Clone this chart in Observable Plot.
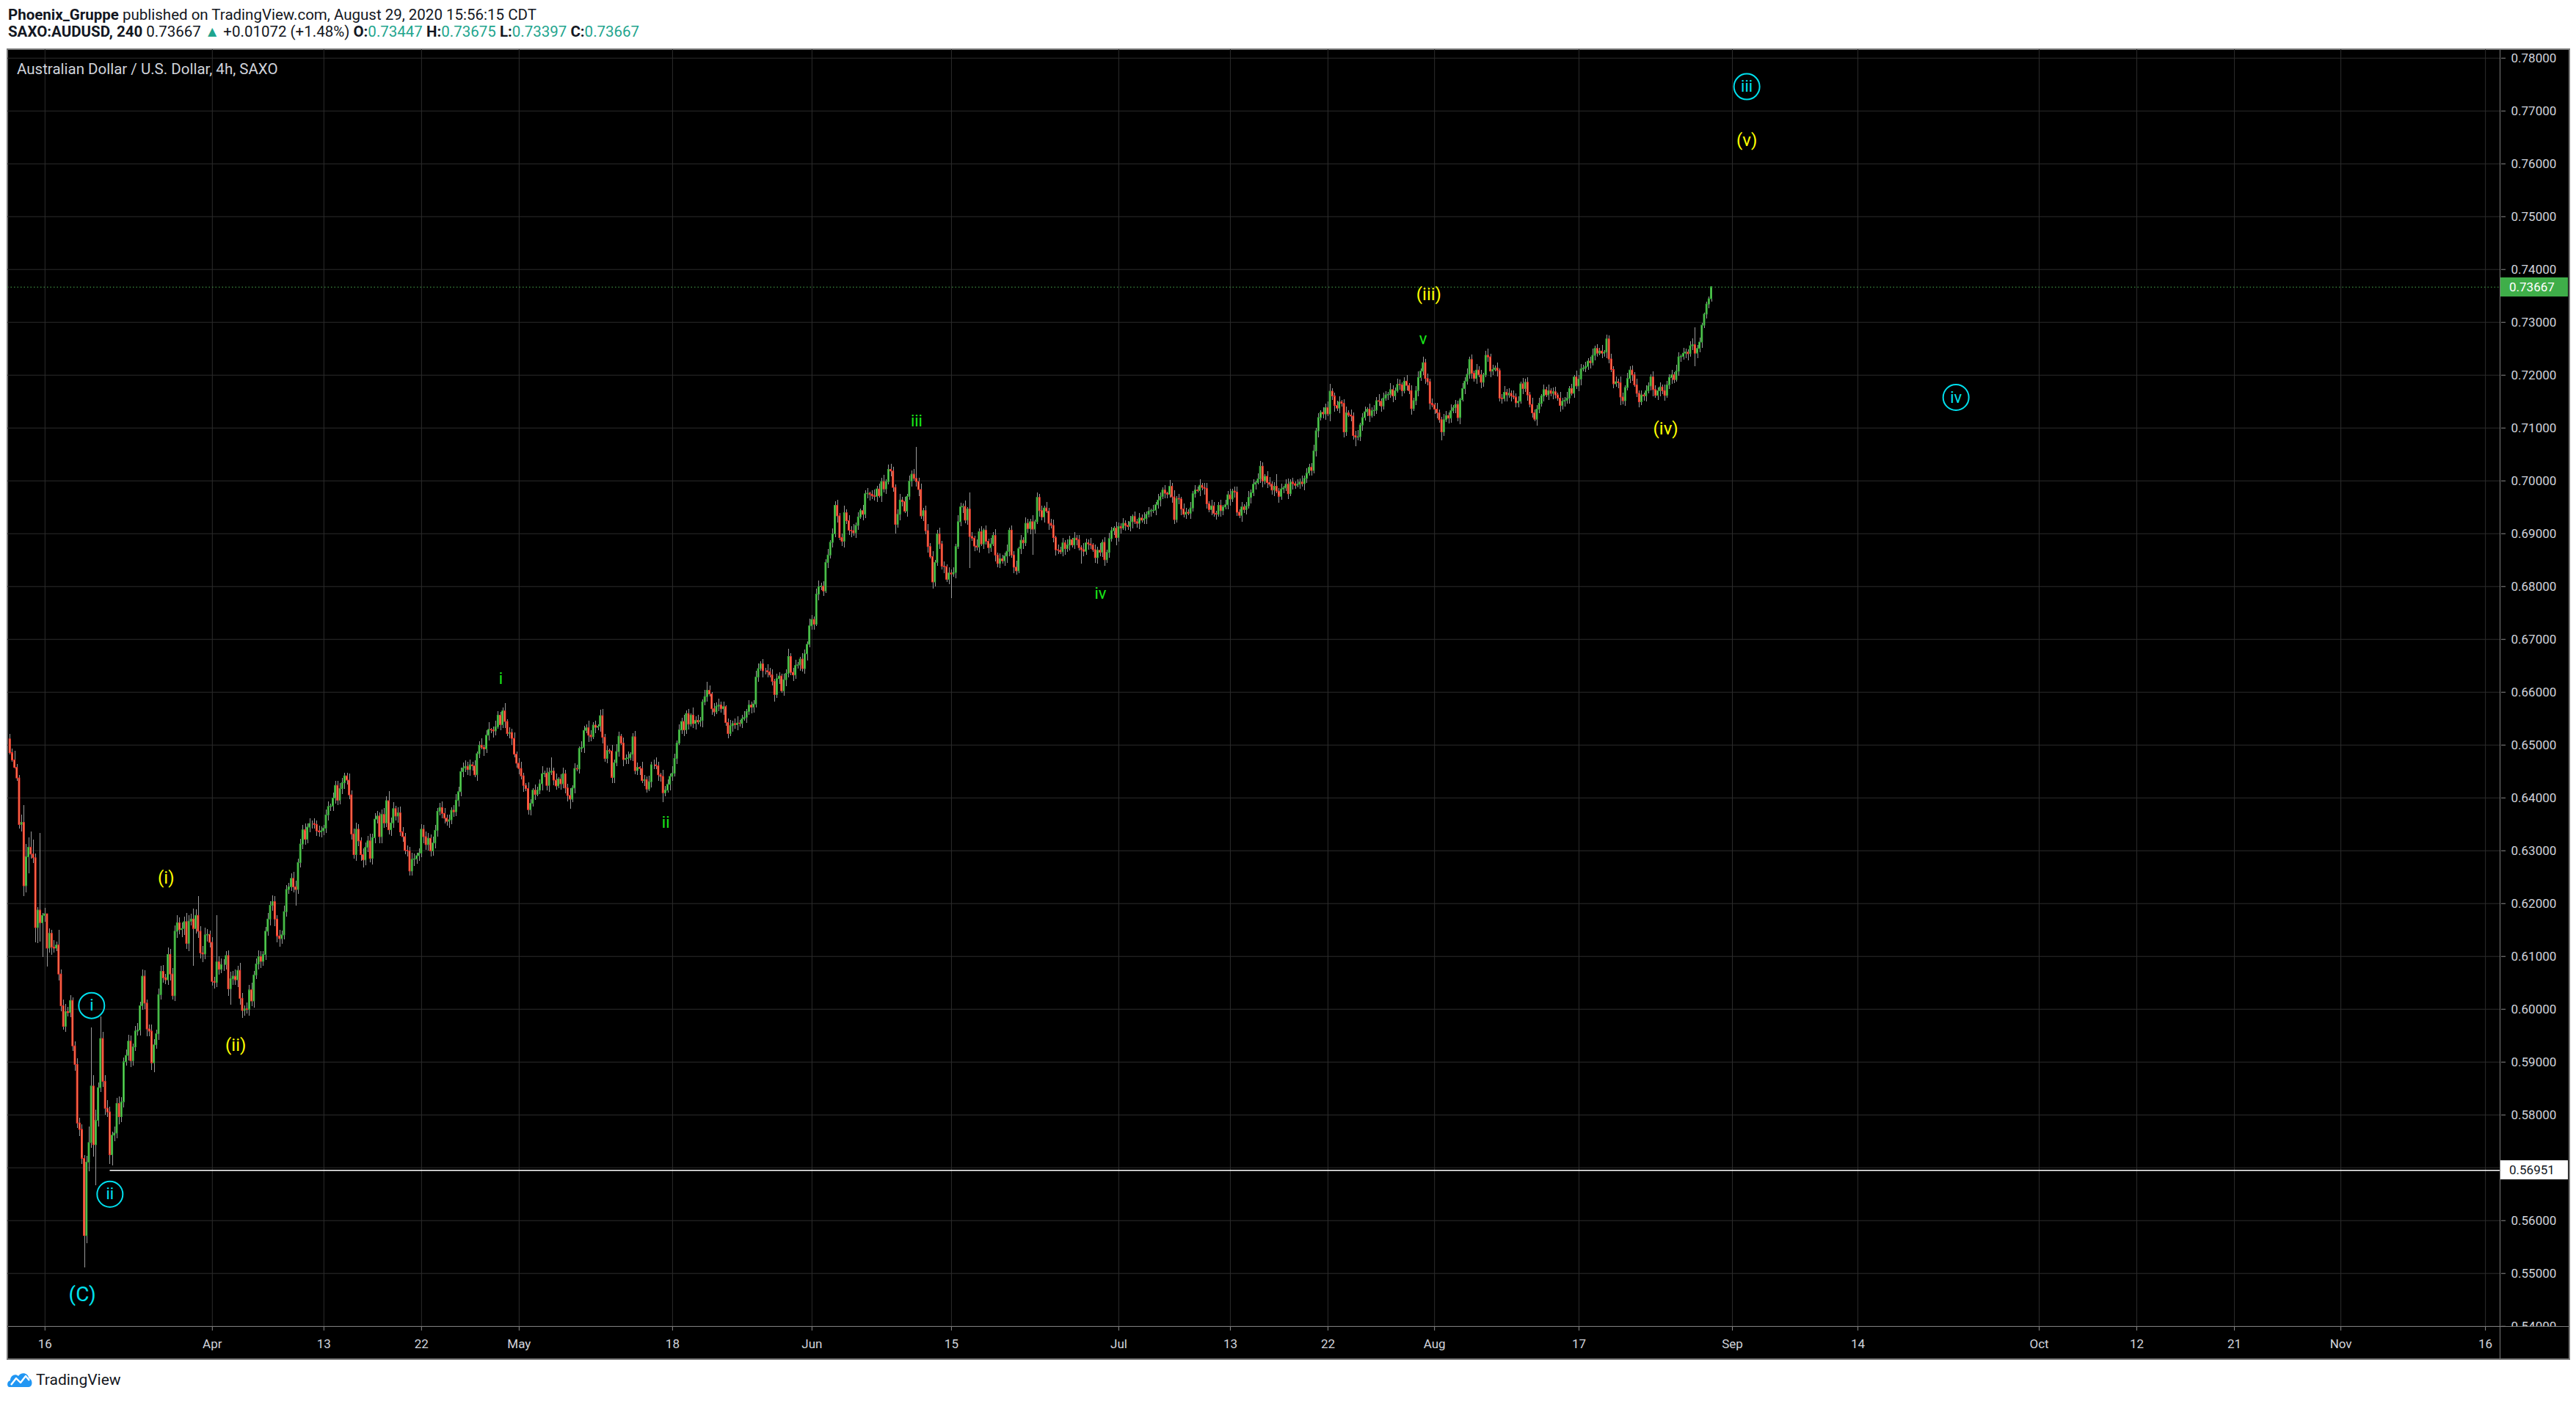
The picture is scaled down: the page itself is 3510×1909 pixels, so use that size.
<!DOCTYPE html>
<html><head><meta charset="utf-8">
<script src="https://cdn.jsdelivr.net/npm/d3@7"></script>
<script src="https://cdn.jsdelivr.net/npm/@observablehq/plot@0.6"></script>
<style>
html,body{margin:0;padding:0;background:#fff;width:3510px;height:1909px;overflow:hidden;font-family:Roboto,"Open Sans",sans-serif;}
.hdr{position:absolute;left:11px;font-size:20.5px;color:#131722;white-space:nowrap;line-height:24px;}
.hdr b{font-weight:700}
.t{color:#1fa58e}
#frame{position:absolute;left:9px;top:66px;width:3493px;height:1787px;border:2px solid #7a7a7a;background:#000;box-sizing:border-box;}
#chart{position:absolute;left:0;top:67px;}
#title{position:absolute;left:23px;top:82px;font-size:20.5px;color:#d1d4dc;white-space:nowrap;}
.sep{position:absolute;background:#7a7a7a;}
#corner{position:absolute;left:3407px;top:1808px;width:93px;height:43px;background:#000;}
.plabel{position:absolute;left:3407px;width:92px;height:26px;line-height:26px;font-size:17px;padding-left:12px;box-sizing:border-box;}
#logo{position:absolute;left:9px;top:1866px;height:28px;display:flex;align-items:center;gap:4px;font-size:21px;color:#131722;}
</style></head>
<body>
<div class="hdr" id="h1" style="top:8px"></div>
<div class="hdr" id="h2" style="top:31px"></div>
<div id="frame"></div>
<div id="chart"></div>
<div id="title"></div>
<div class="sep" style="left:3406px;top:67px;width:1px;height:1784px"></div>
<div class="sep" style="left:11px;top:1807px;width:3489px;height:1px"></div>
<div id="corner"></div>
<div id="logo"><svg width="36" height="24" viewBox="0 0 36 24"><path d="M4 22 C0 22 0 14 5 13 C5 6 12 3 16 7 C19 1 30 2 30 10 C36 11 36 22 30 22 Z" fill="#2196f3"/><polyline points="6,19 13,10 19,16 26,7 31,13" fill="none" stroke="#fff" stroke-width="2.4" stroke-linejoin="round"/></svg><span>TradingView</span></div>
<script>
// ---- chart data (prices in pips, 1 pip = 0.0001), one 4h bar per entry ----
const PIP = 1e-4;
const firstOpen = 6511;
const closes = [
6485,6471,6457,6437,6349,6353,6233,6288,6306,6293,
6286,6154,6187,6163,6177,6180,6115,6143,6117,6115,
6121,6066,6006,5967,5995,5993,6016,5930,5895,5784,
5772,5717,5571,5710,5747,5854,5743,5789,5851,5944,
5863,5812,5805,5724,5761,5765,5821,5796,5824,5900,
5912,5939,5902,5928,5958,5960,6006,6062,6011,5962,
5958,5898,5932,5953,6027,6071,6059,6055,6103,6066,
6025,6147,6163,6150,6152,6165,6124,6166,6170,6152,
6177,6147,6106,6104,6140,6141,6126,6052,6050,6089,
6075,6084,6084,6101,6038,6057,6062,6055,6073,6020,
5997,6000,5999,6036,6015,6064,6085,6099,6090,6103,
6147,6170,6196,6203,6170,6138,6133,6140,6184,6226,
6231,6247,6231,6226,6277,6312,6339,6321,6344,6351,
6351,6349,6337,6335,6337,6342,6367,6383,6384,6399,
6423,6395,6417,6428,6441,6433,6405,6331,6292,6340,
6318,6292,6282,6306,6318,6285,6324,6359,6365,6326,
6368,6352,6394,6339,6352,6379,6365,6371,6335,6326,
6300,6299,6261,6283,6284,6290,6295,6340,6326,6311,
6323,6299,6314,6338,6374,6381,6370,6361,6355,6358,
6376,6373,6395,6411,6449,6456,6459,6453,6462,6460,
6443,6483,6499,6495,6492,6518,6529,6528,6526,6534,
6556,6538,6564,6544,6521,6523,6512,6482,6465,6455,
6441,6423,6417,6377,6389,6414,6406,6414,6426,6445,
6446,6423,6448,6450,6433,6422,6435,6426,6445,6418,
6404,6397,6418,6455,6454,6493,6495,6527,6532,6518,
6515,6537,6533,6535,6555,6514,6474,6489,6488,6438,
6466,6487,6516,6503,6472,6474,6475,6482,6515,6451,
6457,6455,6432,6434,6416,6430,6462,6462,6460,6443,
6440,6409,6414,6425,6440,6446,6474,6503,6528,6544,
6528,6559,6539,6556,6540,6546,6543,6546,6581,6591,
6603,6596,6568,6562,6573,6575,6568,6572,6542,6521,
6536,6540,6538,6541,6540,6549,6552,6563,6575,6571,
6577,6628,6644,6653,6640,6640,6638,6632,6620,6595,
6625,6630,6602,6623,6635,6667,6637,6632,6650,6651,
6662,6644,6672,6690,6725,6737,6728,6785,6799,6800,
6791,6845,6859,6883,6899,6953,6933,6892,6885,6939,
6924,6906,6905,6901,6915,6931,6943,6936,6975,6976,
6974,6971,6970,6984,6971,6998,6984,6998,7021,7018,
6987,6917,6936,6963,6960,6942,6970,6999,7012,7004,
6998,6983,6933,6943,6905,6875,6856,6808,6845,6899,
6880,6838,6837,6813,6825,6823,6826,6875,6922,6950,
6951,6925,6946,6894,6891,6876,6874,6903,6880,6906,
6885,6873,6880,6896,6859,6843,6852,6848,6857,6866,
6906,6859,6836,6829,6871,6887,6882,6919,6909,6922,
6908,6922,6968,6943,6931,6948,6942,6919,6915,6892,
6869,6868,6865,6882,6871,6878,6888,6878,6891,6888,
6873,6869,6866,6882,6880,6878,6869,6854,6868,6864,
6883,6850,6864,6890,6905,6910,6892,6913,6910,6919,
6915,6913,6922,6932,6922,6919,6929,6925,6928,6936,
6942,6943,6944,6954,6963,6970,6982,6976,6974,6989,
6969,6926,6966,6965,6946,6936,6940,6938,6948,6975,
6982,6981,6991,6987,6985,6956,6945,6952,6938,6936,
6953,6943,6950,6954,6973,6965,6980,6978,6940,6934,
6950,6945,6952,6968,6977,6993,6996,7003,7027,6999,
7008,6996,6993,6982,6989,6980,6970,6984,6986,6993,
6975,6997,6994,6991,6993,6997,6994,7004,7014,7025,
7019,7056,7094,7119,7129,7126,7138,7126,7169,7160,
7142,7137,7149,7146,7092,7128,7124,7122,7085,7082,
7083,7105,7119,7130,7135,7123,7132,7133,7151,7150,
7141,7156,7162,7163,7172,7160,7170,7182,7181,7170,
7188,7180,7170,7136,7151,7170,7195,7207,7223,7193,
7187,7146,7143,7135,7128,7115,7092,7115,7123,7118,
7132,7138,7144,7119,7153,7174,7188,7201,7229,7203,
7193,7209,7200,7186,7200,7237,7234,7207,7210,7213,
7208,7156,7155,7167,7162,7165,7160,7158,7147,7150,
7183,7174,7186,7162,7144,7128,7116,7135,7146,7160,
7172,7162,7170,7165,7168,7162,7156,7142,7150,7152,
7156,7174,7165,7196,7179,7192,7211,7213,7216,7226,
7223,7237,7250,7241,7245,7241,7243,7268,7230,7210,
7183,7187,7185,7158,7151,7176,7193,7209,7200,7181,
7165,7149,7162,7160,7170,7179,7196,7172,7161,7170,
7177,7170,7161,7181,7195,7200,7191,7207,7234,7235,
7241,7243,7240,7255,7257,7241,7250,7262,7294,7315,
7334,7344,7366.7];
// wick lengths in pips above the body / below the body
const upperWick = [
10,8,17,6,5,14,33,24,19,30,
28,8,6,146,5,11,0,9,6,13,
7,29,8,11,14,9,10,6,8,12,
10,9,6,12,30,111,20,21,10,42,
13,12,15,10,7,12,11,13,9,8,
11,12,10,7,10,13,8,13,11,7,
9,12,10,8,11,10,12,7,13,10,
12,11,14,10,12,9,16,12,10,20,
12,37,10,13,14,10,7,10,9,89,
11,12,10,9,10,13,10,12,9,14,
10,7,12,10,14,8,11,12,10,7,
8,11,8,12,10,7,12,8,11,9,
7,10,12,11,8,10,9,12,7,10,
6,10,7,10,9,6,10,9,5,10,
8,8,10,9,6,6,12,8,10,12,
10,6,12,9,10,14,8,12,10,7,
10,12,9,18,10,12,6,10,12,9,
7,10,8,12,10,6,9,10,8,10,
10,7,12,10,6,9,12,10,6,9,
6,10,12,9,7,10,12,9,10,6,
11,4,8,13,5,9,14,3,7,12,
8,6,6,15,4,10,7,11,5,9,
13,6,4,12,8,3,11,7,9,14,
5,10,8,26,6,12,4,9,11,7,
8,13,5,10,7,4,12,9,6,14,
10,5,8,3,11,13,7,9,4,12,
6,14,9,5,10,8,12,4,7,11,
9,3,13,8,6,11,5,10,14,7,
4,12,8,10,6,13,9,5,11,7,
12,6,9,4,14,8,10,7,5,13,
16,9,4,11,7,12,6,10,3,8,
11,5,9,13,6,8,12,4,10,7,
8,12,10,5,9,6,13,7,11,4,
10,7,5,12,8,14,6,9,11,5,
4,11,8,6,13,9,5,10,12,7,
9,6,12,4,10,8,11,5,7,13,
6,10,8,12,5,9,4,11,7,10,
3,8,12,6,10,7,13,5,9,11,
8,5,10,12,6,9,4,11,7,10,
60,7,11,5,9,13,6,10,4,8,
12,6,9,4,11,7,10,5,13,8,
6,11,4,31,9,5,12,7,10,3,
9,5,11,7,12,4,10,8,6,13,
5,9,7,12,4,10,6,11,8,5,
13,4,10,7,9,5,12,6,8,11,
4,10,7,9,5,11,8,3,12,6,
9,5,12,8,6,11,4,10,7,13,
6,9,5,11,7,4,12,8,6,10,
5,8,11,4,9,6,10,7,12,5,
8,4,10,6,11,7,5,9,3,12,
7,12,5,9,4,10,8,6,11,5,
9,6,12,4,8,10,5,11,7,4,
6,10,4,9,7,12,5,8,11,6,
10,5,8,12,6,9,4,11,10,7,
4,9,11,5,8,23,6,10,4,9,
11,6,8,4,10,7,12,5,9,6,
8,11,5,9,4,10,7,12,14,5,
6,9,11,4,8,12,5,10,7,9,
12,5,8,10,4,11,6,9,7,13,
5,10,7,4,12,8,6,11,9,5,
8,12,4,10,6,9,11,5,12,7,
10,6,9,4,12,7,5,11,8,6,
12,5,9,7,4,10,8,11,6,9,
5,11,7,10,4,8,12,6,9,5,
10,4,8,12,6,9,5,11,7,10,
4,11,7,9,5,12,6,8,10,4,
9,6,12,5,8,10,4,11,7,6,
11,5,9,4,12,7,10,6,8,5,
9,12,5,8,6,11,4,8,7,10,
6,10,5,12,8,4,11,7,9,5,
12,6,9,4,10,7,5,11,8,6,
9,4,11,7,6,10,5,12,8,4,
10,7,5,9,12,33,6,8,4,3,
5,4,1];
const lowerWick = [
3,3,2,5,8,13,19,13,31,8,
10,28,30,36,65,12,35,9,15,8,
6,12,10,6,10,7,8,9,12,10,
12,10,60,14,18,10,22,77,12,8,
10,12,10,18,20,12,10,14,10,10,
8,10,12,10,8,9,10,8,12,14,
10,14,18,8,12,9,10,8,10,12,
8,10,12,9,14,12,10,14,8,70,
9,12,10,15,10,12,10,8,12,9,
10,8,12,9,14,30,12,10,14,12,
14,10,8,12,10,12,8,10,12,9,
10,8,12,10,14,12,16,10,8,10,
9,8,10,30,8,10,9,10,8,10,
10,8,10,9,10,8,9,10,8,9,
10,9,8,10,12,9,8,10,8,12,
10,12,14,10,9,8,12,10,8,12,
12,10,8,9,12,10,9,12,8,10,
8,10,9,8,12,9,10,8,12,10,
12,10,9,10,12,8,9,10,8,12,
9,10,8,12,9,10,8,10,12,9,
5,11,8,4,13,7,10,6,12,9,
4,10,7,12,5,9,13,6,8,11,
7,12,5,9,11,6,10,4,8,13,
6,9,12,5,10,7,4,11,8,10,
12,18,6,10,4,9,7,11,5,13,
8,4,11,6,10,12,7,9,5,10,
11,6,9,4,12,8,10,5,13,7,
9,12,5,10,7,4,11,8,6,12,
10,18,7,5,12,9,6,11,4,8,
12,7,10,5,9,11,4,8,13,6,
9,5,12,8,4,10,7,11,6,9,
5,12,8,10,6,9,4,11,7,12,
10,6,9,4,12,7,11,5,8,13,
6,10,4,9,12,7,5,11,8,6,
11,5,9,12,6,8,10,4,12,7,
9,4,11,6,10,7,13,5,9,12,
6,9,12,5,10,8,4,11,7,9,
12,6,8,10,4,11,7,9,5,10,
8,18,6,12,9,4,10,7,11,5,
9,12,5,10,7,11,4,13,8,6,
10,7,12,5,9,45,6,11,4,8,
12,6,9,60,5,10,7,11,4,9,
6,11,8,4,12,7,9,5,10,13,
9,5,11,7,4,10,12,6,8,11,
49,8,5,11,7,10,4,12,6,9,
11,7,4,9,12,6,10,5,8,11,
5,27,9,6,11,8,4,10,12,7,
9,12,6,10,5,8,14,7,11,4,
10,6,9,12,5,8,11,4,7,10,
6,11,4,9,7,12,5,10,8,6,
11,8,5,10,12,6,9,4,11,7,
8,4,10,6,12,9,5,11,7,10,
5,11,8,4,9,12,6,10,7,5,
12,7,9,5,11,6,10,4,8,12,
6,10,5,9,11,4,12,7,8,6,
10,5,11,7,4,9,6,12,8,5,
9,6,10,12,5,8,11,4,14,7,
12,5,9,6,11,7,4,10,8,17,
6,9,11,5,8,12,4,10,7,9,
11,7,5,10,6,12,8,4,9,11,
5,10,7,12,4,9,11,6,8,10,
7,12,5,9,11,6,16,8,4,10,
9,5,11,7,12,4,10,6,8,11,
6,10,4,12,8,5,9,11,7,4,
11,7,9,5,12,6,10,4,8,9,
5,10,7,11,6,9,4,12,8,6,
10,4,9,6,11,7,5,12,8,10,
7,11,4,9,6,10,12,5,8,6,
11,5,9,7,4,10,6,12,8,5,
9,6,11,15,7,10,5,8,12,4,
7,10,6,9,11,5,8,12,4,9,
11,6,10,5,8,12,7,4,9,10,
6,9,12,5,8,25,10,7,11,6,
9,8,5];

const yTicks = [0.54,0.55,0.56,0.57,0.58,0.59,0.60,0.61,0.62,0.63,0.64,0.65,0.66,0.67,0.68,0.69,0.70,0.71,0.72,0.73,0.74,0.75,0.76,0.77,0.78];
const xTickBars = [15,87,135,177,219,285,345,405,477,525,567,612.85,675,741,795,873,915,957,1002.8,1065];
const xTickLabels = ["16","Apr","13","22","May","18","Jun","15","Jul","13","22","Aug","17","Sep","14","Oct","12","21","Nov","16"];

const lastPrice = 0.73667;
const supportLevel = 0.56951;
const supportFromBar = 43;

const cyanCircled = [
  {t:"i", bar:35.05, price:0.6007},
  {t:"ii", bar:42.95, price:0.5650},
  {t:"iii", bar:747.2, price:0.7746},
  {t:"iv", bar:837.2, price:0.7158}];
const cyanPlain = [{t:"(C)", bar:31.07, price:0.5460}];
const yellowLabels = [
  {t:"(i)", bar:67.1, price:0.6248},
  {t:"(ii)", bar:97.07, price:0.5932},
  {t:"(iii)", bar:610.4, price:0.7352},
  {t:"(iv)", bar:712.3, price:0.7099},
  {t:"(v)", bar:747.2, price:0.7645}];
const greenLabels = [
  {t:"i", bar:211.1, price:0.6626},
  {t:"ii", bar:282.1, price:0.6353},
  {t:"iii", bar:390.0, price:0.7113},
  {t:"iv", bar:469.1, price:0.6787},
  {t:"v", bar:607.9, price:0.7268}];

const header1 = ["Phoenix_Gruppe", " published on TradingView.com, August 29, 2020 15:56:15 CDT"];
const symbolLine = {sym:"SAXO:AUDUSD, 240", last:"0.73667", chg:"+0.01072 (+1.48%)", o:"0.73447", h:"0.73675", l:"0.73397", c:"0.73667"};
const chartTitle = "Australian Dollar / U.S. Dollar, 4h, SAXO";

// ---- layout ----
const xDomain = [-1.042, 1071.6];
const yDomain = [0.53996, 0.78163];
const upFill = "#66d95a", upStroke = "#34a83a", downFill = "#ff9a5e", downStroke = "#f5302c";
const cyan = "#00e0ee", yellow = "#ffff00", green = "#19e619";

document.getElementById("h1").innerHTML = `<b>${header1[0]}</b>${header1[1]}`;
document.getElementById("h2").innerHTML =
  `<b>${symbolLine.sym}</b> ${symbolLine.last} <span class="t">&#9650;</span> ${symbolLine.chg} ` +
  `<b>O:</b><span class="t">${symbolLine.o}</span> <b>H:</b><span class="t">${symbolLine.h}</span> ` +
  `<b>L:</b><span class="t">${symbolLine.l}</span> <b>C:</b><span class="t">${symbolLine.c}</span>`;
document.getElementById("title").textContent = chartTitle;

const candles = closes.map((c, i) => {
  const o = i === 0 ? firstOpen : closes[i - 1];
  return {
    i, open: o * PIP, close: c * PIP,
    high: (Math.max(o, c) + upperWick[i]) * PIP,
    low: (Math.min(o, c) - lowerWick[i]) * PIP,
    up: c >= o
  };
});
const ups = candles.filter(d => d.up), downs = candles.filter(d => !d.up);
const tickLabel = new Map(xTickBars.map((b, k) => [b, xTickLabels[k]]));
const font = "Roboto, 'Open Sans', sans-serif";

const chart = Plot.plot({
  width: 3510, height: 1784,
  marginLeft: 10, marginRight: 103, marginTop: 0, marginBottom: 44,
  style: {background: "transparent", color: "#d1d4dc", fontFamily: font, fontSize: "17px", overflow: "visible"},
  x: {type: "linear", domain: xDomain},
  y: {type: "linear", domain: yDomain},
  marks: [
    Plot.gridY(yTicks, {stroke: "#2c2c2c", strokeOpacity: 1, strokeWidth: 1}),
    Plot.gridX(xTickBars, {stroke: "#2c2c2c", strokeOpacity: 1, strokeWidth: 1}),
    Plot.axisY(yTicks, {anchor: "right", tickFormat: d => d.toFixed(5), tickSize: 6, tickPadding: 8, fontSize: 17, color: "#d1d4dc", stroke: "#8a8a8a"}),
    Plot.axisX(xTickBars, {anchor: "bottom", tickFormat: d => tickLabel.get(d), tickSize: 6, tickPadding: 11, fontSize: 17, color: "#d1d4dc", stroke: "#8a8a8a"}),
    Plot.ruleY([lastPrice], {stroke: "#4caf50", strokeWidth: 1, strokeDasharray: "1.5,3"}),
    Plot.ruleY([{y: supportLevel, x1: supportFromBar, x2: xDomain[1]}], {y: "y", x1: "x1", x2: "x2", stroke: "#ffffff", strokeWidth: 1.5}),
    Plot.ruleX(candles, {x: "i", y1: "low", y2: "high", stroke: "#9a9a9a", strokeWidth: 1, shapeRendering: "crispEdges"}),
    Plot.rect(ups, {x1: d => d.i - 0.3, x2: d => d.i + 0.3, y1: "open", y2: "close", fill: upFill, stroke: upStroke, strokeWidth: 1}),
    Plot.rect(downs, {x1: d => d.i - 0.3, x2: d => d.i + 0.3, y1: "open", y2: "close", fill: downFill, stroke: downStroke, strokeWidth: 1}),
    Plot.dot(cyanCircled, {x: "bar", y: "price", r: 17.5, stroke: cyan, strokeWidth: 2, fill: "none"}),
    Plot.text(cyanCircled, {x: "bar", y: "price", text: "t", fill: cyan, fontSize: 22, fontFamily: font}),
    Plot.text(cyanPlain, {x: "bar", y: "price", text: "t", fill: cyan, fontSize: 28, fontFamily: font}),
    Plot.text(yellowLabels, {x: "bar", y: "price", text: "t", fill: yellow, fontSize: 24, fontFamily: font}),
    Plot.text(greenLabels, {x: "bar", y: "price", text: "t", fill: green, fontSize: 22, fontFamily: font})
  ]
});
document.getElementById("chart").appendChild(chart);

// price tags on the axis
const ys = chart.scale("y");
function tag(price, bg, fg) {
  const d = document.createElement("div");
  d.className = "plabel";
  d.style.top = (67 + ys.apply(price) - 13) + "px";
  d.style.background = bg; d.style.color = fg;
  d.textContent = price.toFixed(5);
  document.body.appendChild(d);
}
tag(lastPrice, "#3fae49", "#ffffff");
tag(supportLevel, "#ffffff", "#131722");
</script>
</body></html>
